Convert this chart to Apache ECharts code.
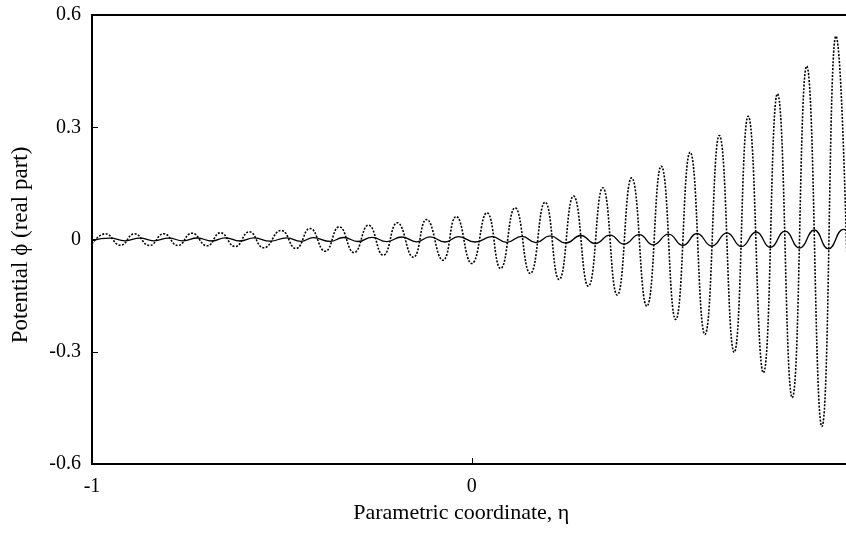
<!DOCTYPE html>
<html>
<head>
<meta charset="utf-8">
<script src="https://cdn.jsdelivr.net/npm/echarts@6/dist/echarts.min.js"></script>
<style>
html,body{margin:0;padding:0;background:#fff;overflow:hidden;}
#chart{width:846px;height:534px;}
</style>
</head>
<body>
<div id="chart"></div>
<script>
// Dotted curve: extrema (eta, phi)
const etaDotted = [-1.000,-0.965,-0.925,-0.888,-0.849,-0.811,-0.774,-0.737,-0.697,-0.662,-0.623,-0.586,-0.548,-0.502,-0.463,-0.426,-0.386,-0.349,-0.310,-0.272,-0.233,-0.196,-0.154,-0.119,-0.076,-0.041,0.000,0.040,0.076,0.114,0.154,0.193,0.230,0.268,0.307,0.345,0.383,0.421,0.461,0.499,0.537,0.575,0.614,0.652,0.691,0.728,0.768,0.805,0.844,0.882,0.922,0.959,1.000];
const phiDotted = [-0.0115,0.0152,-0.0152,0.0152,-0.0160,0.0152,-0.0160,0.0168,-0.0168,0.0179,-0.0187,0.0206,-0.0222,0.0240,-0.0240,0.0294,-0.0313,0.0339,-0.0347,0.0382,-0.0419,0.0446,-0.0473,0.0534,-0.0553,0.0614,-0.0641,0.0713,-0.0775,0.0847,-0.0908,0.0997,-0.1069,0.1162,-0.1248,0.1381,-0.1483,0.1648,-0.1782,0.1958,-0.2137,0.2332,-0.2538,0.2779,-0.3014,0.3294,-0.3561,0.3893,-0.4229,0.4630,-0.4997,0.5431,-0.585];
// Solid curve: extrema (eta, phi)
const etaSolid = [-1.000,-0.953,-0.913,-0.874,-0.837,-0.798,-0.760,-0.723,-0.684,-0.649,-0.610,-0.573,-0.531,-0.487,-0.450,-0.417,-0.373,-0.338,-0.299,-0.263,-0.224,-0.184,-0.145,-0.110,-0.070,-0.035,0.009,0.053,0.092,0.132,0.169,0.206,0.248,0.287,0.325,0.364,0.401,0.441,0.478,0.518,0.556,0.593,0.632,0.672,0.710,0.749,0.786,0.825,0.863,0.902,0.939,0.979,1.000];
const phiSolid = [-0.0027,0.0037,-0.0035,0.0037,-0.0035,0.0037,-0.0037,0.0040,-0.0040,0.0043,-0.0040,0.0043,-0.0045,0.0045,-0.0048,0.0048,-0.0051,0.0053,-0.0053,0.0059,-0.0056,0.0067,-0.0061,0.0069,-0.0067,0.0075,-0.0067,0.0075,-0.0075,0.0085,-0.0085,0.0096,-0.0094,0.0107,-0.0107,0.0118,-0.0123,0.0128,-0.0142,0.0144,-0.0158,0.0160,-0.0174,0.0179,-0.0192,0.0200,-0.0214,0.0222,-0.0230,0.0254,-0.0248,0.0273,0.0030];
const xTickLabels = ['-1','0',''];
const yTickLabels = ['-0.6','-0.3','0','0.3','0.6'];

const font = '"Liberation Serif","DejaVu Serif",serif';
const chart = echarts.init(document.getElementById('chart'), null, {renderer:'canvas'});
chart.setOption({
  animation:false,
  backgroundColor:'#fff',
  grid:{left:92,top:15,width:759.5,height:449,show:true,borderColor:'#000',borderWidth:2,
        containLabel:false,outerBoundsMode:'none'},
  xAxis:{
    type:'value',min:-1,max:1,interval:1,
    name:'Parametric coordinate, \u03b7',nameLocation:'middle',nameGap:27,
    nameTextStyle:{fontFamily:font,fontSize:22,color:'#000',padding:[0,21,0,0]},
    axisLine:{show:true,onZero:false,lineStyle:{color:'#000',width:2}},
    axisTick:{show:true,inside:true,length:6,lineStyle:{color:'#000',width:1}},
    axisLabel:{fontFamily:font,fontSize:20,color:'#000',margin:13,
      formatter:function(v){const i=Math.round(v+1);return xTickLabels[i];}},
    splitLine:{show:false}
  },
  yAxis:{
    type:'value',min:-0.6,max:0.6,interval:0.3,
    name:'Potential \u03d5 (real part)',nameLocation:'middle',nameGap:60,
    nameTextStyle:{fontFamily:font,fontSize:23,color:'#000',padding:[0,11,0,0]},
    axisLine:{show:true,onZero:false,lineStyle:{color:'#000',width:2}},
    axisTick:{show:true,inside:true,length:6,lineStyle:{color:'#000',width:1}},
    axisLabel:{fontFamily:font,fontSize:20,color:'#000',margin:11,
      formatter:function(v){const i=Math.round(v/0.3)+2;return yTickLabels[i];}},
    splitLine:{show:false}
  },
  series:[
    {type:'line',data:etaDotted.map((e,i)=>[e,phiDotted[i]]),smooth:0.5,symbol:'none',
     clip:true,lineStyle:{color:'#000',width:1.6,type:[2,1.5]}},
    {type:'line',data:etaSolid.map((e,i)=>[e,phiSolid[i]]),smooth:0.5,symbol:'none',
     clip:true,lineStyle:{color:'#000',width:1.3,type:'solid'}}
  ]
});
</script>
</body>
</html>
